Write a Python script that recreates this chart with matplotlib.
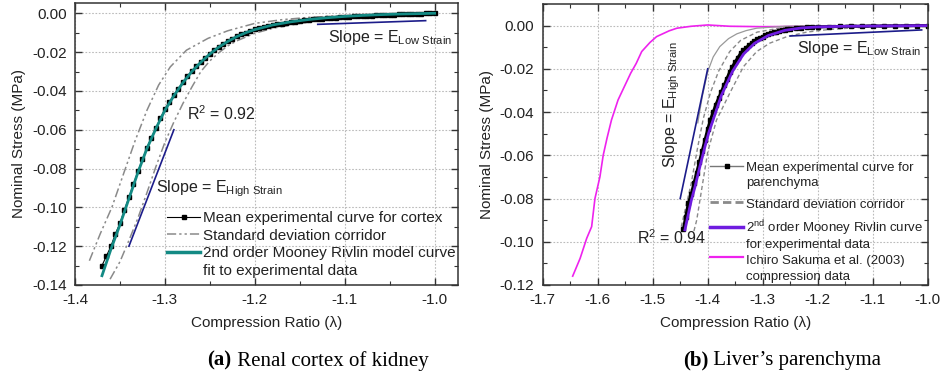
import matplotlib
matplotlib.use("Agg")
import matplotlib.pyplot as plt
from matplotlib.ticker import MultipleLocator, FormatStrFormatter

plt.rcParams['font.family'] = ['Liberation Sans', 'DejaVu Sans']
plt.rcParams['mathtext.fontset'] = 'custom'
plt.rcParams['mathtext.rm'] = 'Liberation Sans'
plt.rcParams['mathtext.it'] = 'Liberation Sans:italic'
plt.rcParams['axes.unicode_minus'] = False

# ---------------- Panel (a): renal cortex ----------------
a_mean_x = [-1.370, -1.365, -1.360, -1.355, -1.350, -1.345, -1.340, -1.335, -1.330, -1.325,
            -1.320, -1.315, -1.310, -1.305, -1.300, -1.295, -1.290, -1.285, -1.280, -1.275,
            -1.270, -1.265, -1.260, -1.255, -1.250, -1.245, -1.240, -1.235, -1.230, -1.225,
            -1.220, -1.215, -1.210, -1.205, -1.200, -1.195, -1.190, -1.185, -1.180, -1.175,
            -1.170, -1.165, -1.160, -1.155, -1.150, -1.145, -1.140, -1.135, -1.130, -1.125,
            -1.120, -1.115, -1.110, -1.105, -1.100, -1.095, -1.090, -1.085, -1.080, -1.075,
            -1.070, -1.065, -1.060, -1.055, -1.050, -1.045, -1.040, -1.035, -1.030, -1.025,
            -1.020, -1.015, -1.010, -1.005, -1.000]
a_mean_y = [-0.1300, -0.1250, -0.1200, -0.1135, -0.1082, -0.1012, -0.0948, -0.0880, -0.0815, -0.0753,
            -0.0692, -0.0641, -0.0591, -0.0541, -0.0493, -0.0455, -0.0422, -0.0388, -0.0355, -0.0324,
            -0.0297, -0.0273, -0.0250, -0.0229, -0.0210, -0.0190, -0.0172, -0.0157, -0.0143, -0.0130,
            -0.0119, -0.0109, -0.0100, -0.0091, -0.0083, -0.0077, -0.0071, -0.0066, -0.0061, -0.0057,
            -0.0053, -0.0049, -0.0046, -0.0043, -0.0040, -0.0037, -0.0034, -0.0032, -0.0030, -0.0028,
            -0.0026, -0.0024, -0.0022, -0.0020, -0.0018, -0.0017, -0.0016, -0.0015, -0.0014, -0.0013,
            -0.0012, -0.0011, -0.0010, -0.0009, -0.0008, -0.0007, -0.0006, -0.0005, -0.0004, -0.0003,
            -0.0002, -0.0002, -0.0001, -0.0001, 0.0000]

a_fit_x = [-1.37, -1.36, -1.35, -1.34, -1.33, -1.32, -1.31, -1.30, -1.29, -1.28, -1.27, -1.26,
           -1.25, -1.24, -1.23, -1.22, -1.21, -1.20, -1.18, -1.16, -1.14, -1.12, -1.10, -1.08,
           -1.06, -1.04, -1.02, -1.00]
a_fit_y = [-0.1352, -0.1215, -0.1090, -0.0955, -0.0820, -0.0697, -0.0594, -0.0500, -0.0425, -0.0358,
           -0.0300, -0.0252, -0.0210, -0.0174, -0.0145, -0.0120, -0.0100, -0.0084, -0.0060, -0.0044,
           -0.0032, -0.0023, -0.0016, -0.0011, -0.0007, -0.0004, -0.0002, 0.0000]

a_sd_up_x = [-1.384, -1.372, -1.359, -1.346, -1.333, -1.320, -1.307, -1.294, -1.276, -1.252,
             -1.230, -1.200, -1.170, -1.140, -1.100, -1.060, -1.020, -1.000]
a_sd_up_y = [-0.1275, -0.1137, -0.1000, -0.0827, -0.0655, -0.0500, -0.0370, -0.0276, -0.0190, -0.0129,
             -0.0090, -0.0052, -0.0033, -0.0021, -0.0012, -0.0006, -0.0002, 0.0000]

a_sd_lo_x = [-1.361, -1.350, -1.340, -1.330, -1.320, -1.310, -1.300, -1.290, -1.280, -1.270,
             -1.260, -1.250, -1.240, -1.230, -1.220, -1.200, -1.180, -1.150, -1.120, -1.100,
             -1.070, -1.040, -1.020, -1.000]
a_sd_lo_y = [-0.1370, -0.1280, -0.1170, -0.1055, -0.0925, -0.0790, -0.0665, -0.0560, -0.0465, -0.0380,
             -0.0300, -0.0245, -0.0203, -0.0168, -0.0142, -0.0103, -0.0077, -0.0052, -0.0035, -0.0026,
             -0.0016, -0.0008, -0.0004, 0.0000]

a_high_x = [-1.34, -1.29]
a_high_y = [-0.120, -0.060]
a_low_x = [-1.13, -1.01]
a_low_y = [-0.0057, -0.0038]

a_legend_labels = ['Mean experimental curve for cortex', 'Standard deviation corridor',
                   '2nd order Mooney Rivlin model curve', 'fit to experimental data']

# ---------------- Panel (b): liver parenchyma ----------------
b_mean_x = [-1.444, -1.440, -1.435, -1.430, -1.425, -1.420, -1.415, -1.410, -1.405, -1.400,
            -1.395, -1.390, -1.385, -1.380, -1.375, -1.370, -1.365, -1.360, -1.355, -1.350,
            -1.345, -1.340, -1.335, -1.330, -1.325, -1.320, -1.315, -1.310, -1.305, -1.300,
            -1.295, -1.290, -1.285, -1.280, -1.275, -1.270, -1.265, -1.260, -1.255, -1.250,
            -1.240, -1.230, -1.220, -1.210, -1.200, -1.180, -1.160, -1.140, -1.120, -1.100,
            -1.080, -1.060, -1.040, -1.020, -1.000]
b_mean_y = [-0.0940, -0.0885, -0.0820, -0.0780, -0.0730, -0.0680, -0.0630, -0.0580, -0.0530, -0.0480,
            -0.0435, -0.0400, -0.0365, -0.0335, -0.0305, -0.0275, -0.0245, -0.0215, -0.0190, -0.0168,
            -0.0148, -0.0128, -0.0114, -0.0102, -0.0091, -0.0081, -0.0072, -0.0064, -0.0057, -0.0051,
            -0.0045, -0.0040, -0.0035, -0.0031, -0.0028, -0.0025, -0.0022, -0.0019, -0.0017, -0.0015,
            -0.0012, -0.0010, -0.0008, -0.0007, -0.0006, -0.0005, -0.0004, -0.0003, -0.0003, -0.0002,
            -0.0002, -0.0001, -0.0001, 0.0000, 0.0000]

b_fit_x = [-1.4414, -1.430, -1.423, -1.414, -1.405, -1.398, -1.390, -1.375, -1.355, -1.335,
           -1.315, -1.290, -1.260, -1.230, -1.200, -1.150, -1.100, -1.000]
b_fit_y = [-0.0945, -0.0810, -0.0745, -0.0650, -0.0560, -0.0495, -0.0435, -0.0322, -0.0212, -0.0132,
           -0.0082, -0.0046, -0.0022, -0.0011, -0.0006, -0.0003, -0.0002, 0.0000]

b_sd_thin_x = [-1.418, -1.410, -1.400, -1.390, -1.378, -1.362, -1.347, -1.330, -1.311, -1.260,
               -1.200, -1.000]
b_sd_thin_y = [-0.0450, -0.0330, -0.0213, -0.0145, -0.0097, -0.0060, -0.0038, -0.0023, -0.0012, -0.0003,
               0.0000, 0.0000]

b_sd_up_x = [-1.448, -1.430, -1.418, -1.408, -1.395, -1.380, -1.360, -1.340, -1.310, -1.270,
             -1.200, -1.160, -1.000]
b_sd_up_y = [-0.0930, -0.0730, -0.0560, -0.0430, -0.0310, -0.0210, -0.0120, -0.0068, -0.0030, -0.0012,
             -0.0003, 0.0002, 0.0003]

b_sd_lo_x = [-1.425, -1.420, -1.400, -1.384, -1.360, -1.335, -1.311, -1.287, -1.256, -1.220,
             -1.180, -1.120, -1.000]
b_sd_lo_y = [-0.0950, -0.0900, -0.0585, -0.0437, -0.0313, -0.0190, -0.0120, -0.0081, -0.0051, -0.0030,
             -0.0018, -0.0008, 0.0000]

b_sak_x = [-1.6455, -1.632, -1.620, -1.611, -1.605, -1.596, -1.590, -1.583, -1.575, -1.563,
           -1.553, -1.540, -1.530, -1.520, -1.505, -1.493, -1.470, -1.456, -1.430, -1.400,
           -1.360, -1.300, -1.250, -1.200, -1.100, -1.000]
b_sak_y = [-0.1159, -0.1077, -0.0984, -0.0930, -0.0800, -0.0700, -0.0600, -0.0520, -0.0437, -0.0344,
           -0.0290, -0.0220, -0.0175, -0.0120, -0.0078, -0.0051, -0.0024, -0.0012, -0.0003, 0.0003,
           -0.0003, -0.0005, -0.0004, -0.0002, -0.0001, 0.0000]

b_high_x = [-1.45, -1.40]
b_high_y = [-0.080, -0.020]
b_low_x = [-1.250, -1.011]
b_low_y = [-0.0048, -0.0020]

b_legend_labels = ['Mean experimental curve for', 'parenchyma', 'Standard deviation corridor',
                   '2$^{\\mathrm{nd}}$ order Mooney Rivlin curve', 'for experimental data',
                   'Ichiro Sakuma et al. (2003)', 'compression data']

TXT = '#222222'
NAVY = '#1c1c8a'
TEAL = '#138a84'
PURPLE = '#6f1ce0'
MAGENTA = '#ee22ee'
GRAY = '#8a8a8a'

fig = plt.figure(figsize=(9.44, 3.76), dpi=100)
axA = fig.add_axes([75/944, 1-285/376, 383/944, 282/376])
axB = fig.add_axes([542.7/944, 1-285/376, 385/944, 281/376])


def style(ax, xlim, ylim):
    ax.set_xlim(*xlim)
    ax.set_ylim(*ylim)
    ax.xaxis.set_major_locator(MultipleLocator(0.1))
    ax.xaxis.set_minor_locator(MultipleLocator(0.05))
    ax.yaxis.set_major_locator(MultipleLocator(0.02))
    ax.yaxis.set_minor_locator(MultipleLocator(0.01))
    ax.xaxis.set_major_formatter(FormatStrFormatter('%.1f'))
    ax.yaxis.set_major_formatter(FormatStrFormatter('%.2f'))
    ax.tick_params(which='both', direction='in', top=True, right=True,
                   colors='#333333', labelcolor=TXT, labelsize=11, pad=6)
    ax.tick_params(which='major', length=5, width=1)
    ax.tick_params(which='minor', length=3, width=0.8)
    ax.grid(True, which='major', linestyle=(0, (1.5, 1.5)), color='#bbbbbb', linewidth=0.8)
    for s in ax.spines.values():
        s.set_color('#333333')
        s.set_linewidth(1.1)
    ax.set_xlabel('Compression Ratio (λ)', fontsize=11, color=TXT, labelpad=6)
    ax.set_ylabel('Nominal Stress (MPa)', fontsize=11, color=TXT, labelpad=4)


def pix_to_axes(ax_left, ax_w, ax_bottom_px, ax_h, X, Y):
    return (X - ax_left) / ax_w, (ax_bottom_px - Y) / ax_h


style(axA, (-1.4, -0.974), (-0.14, 0.0053))
style(axB, (-1.7, -1.0), (-0.12, 0.01))

# ---- panel (a) ----
ddot = (0, (6, 2, 1.5, 2, 1.5, 2))
axA.plot(a_sd_up_x, a_sd_up_y, color=GRAY, lw=1.1, ls=ddot)
axA.plot(a_sd_lo_x, a_sd_lo_y, color=GRAY, lw=1.1, ls=ddot)
axA.plot(a_mean_x, a_mean_y, color='black', lw=0.8, marker='s', ms=3, mfc='black', mec='black')
axA.plot(a_fit_x, a_fit_y, color=TEAL, lw=2)
axA.plot(a_high_x, a_high_y, color=NAVY, lw=1.2)
axA.plot(a_low_x, a_low_y, color=NAVY, lw=1.2)
axA.text(-1.119, -0.0123, 'Slope = E$_{\\mathrm{Low\\ Strain}}$', fontsize=11.5, color=TXT, va='center', ha='left')
axA.text(-1.31, -0.0905, 'Slope = E$_{\\mathrm{High\\ Strain}}$', fontsize=11.5, color=TXT, va='center', ha='left')
axA.text(-1.275, -0.0515, 'R$^2$ = 0.92', fontsize=11.5, color=TXT, va='center', ha='left')

# manual legend (a): handles aligned to first text line
ta = axA.transAxes
ya = [(285 - Y) / 282 for Y in (216.7, 234.3, 251.7, 269.3)]
hx0, hx1, tx = (167 - 75) / 383, (200 - 75) / 383, (203 - 75) / 383
off_a = 5.3 / 282
axA.plot([hx0, hx1], [ya[0], ya[0]], transform=ta, color='black', lw=0.8)
axA.plot([(hx0 + hx1) / 2], [ya[0]], transform=ta, marker='s', ms=3.5, color='black')
axA.plot([hx0, hx1], [ya[1], ya[1]], transform=ta, color=GRAY, lw=1.1, ls=ddot)
axA.plot([hx0, hx1], [ya[2], ya[2]], transform=ta, color=TEAL, lw=2.5)
for lab, y in zip(a_legend_labels, ya):
    axA.text(tx, y - off_a, lab, transform=ta, fontsize=11, color=TXT, va='baseline', ha='left')

# ---- panel (b) ----
axB.plot(b_sak_x, b_sak_y, color=MAGENTA, lw=1.2)
axB.plot(b_sd_thin_x, b_sd_thin_y, color='#999999', lw=0.9)
axB.plot(b_sd_up_x, b_sd_up_y, color=GRAY, lw=1.0, ls=(0, (3, 2)))
axB.plot(b_sd_lo_x, b_sd_lo_y, color=GRAY, lw=1.0, ls=(0, (3, 2)))
axB.plot(b_mean_x, b_mean_y, color='black', lw=2.2, marker='s', ms=2.5, mfc='black', mec='black')
axB.plot(b_fit_x, b_fit_y, color=PURPLE, lw=2)
axB.plot(b_high_x, b_high_y, color=NAVY, lw=1.2)
axB.plot(b_low_x, b_low_y, color=NAVY, lw=1.2)
axB.text(-1.238, -0.0105, 'Slope = E$_{\\mathrm{Low\\ Strain}}$', fontsize=11.5, color=TXT, va='center', ha='left')
axB.text(-1.466, -0.0368, 'Slope = E$_{\\mathrm{High\\ Strain}}$', fontsize=11.5, color=TXT,
         va='center', ha='center', rotation=90)
axB.text(-1.466, -0.098, 'R$^2$ = 0.94', fontsize=11.5, color=TXT, va='center', ha='center')

# manual legend (b)
tb = axB.transAxes
yb = [(285 - Y) / 281 for Y in (166, 181.7, 203.3, 227.5, 243.3, 259.3, 275.3)]
hyb = [(285 - Y) / 281 for Y in (166, 202, 226.7, 256.7)]
bx0, bx1, btx = (710 - 542.7) / 385, (743 - 542.7) / 385, (746 - 542.7) / 385
off_b = 4.6 / 281
axB.plot([bx0, bx1], [hyb[0], hyb[0]], transform=tb, color='#777777', lw=1.0)
axB.plot([(bx0 + bx1) / 2], [hyb[0]], transform=tb, marker='s', ms=3.2, color='black')
axB.plot([bx0, bx1], [hyb[1], hyb[1]], transform=tb, color=GRAY, lw=2, ls=(0, (3, 1.5)))
axB.plot([bx0, bx1], [hyb[2], hyb[2]], transform=tb, color=PURPLE, lw=2.5)
axB.plot([bx0, bx1], [hyb[3], hyb[3]], transform=tb, color=MAGENTA, lw=1.6)
for lab, y in zip(b_legend_labels, yb):
    axB.text(btx, y - off_b, lab, transform=tb, fontsize=9.5, color=TXT, va='baseline', ha='left')

# ---- captions ----
serif = ['Liberation Serif', 'DejaVu Serif']
fig.text(0.2454, 0.040, '(a)', fontsize=15, family=serif, fontweight='bold', ha='right', va='center')
fig.text(0.2454, 0.040, ' Renal cortex of kidney', fontsize=15, family=serif, ha='left', va='center')
fig.text(0.7504, 0.040, '(b)', fontsize=15, family=serif, fontweight='bold', ha='right', va='center')
fig.text(0.7504, 0.040, ' Liver\u2019s parenchyma', fontsize=15, family=serif, ha='left', va='center')

fig.savefig('out.png', dpi=100)
